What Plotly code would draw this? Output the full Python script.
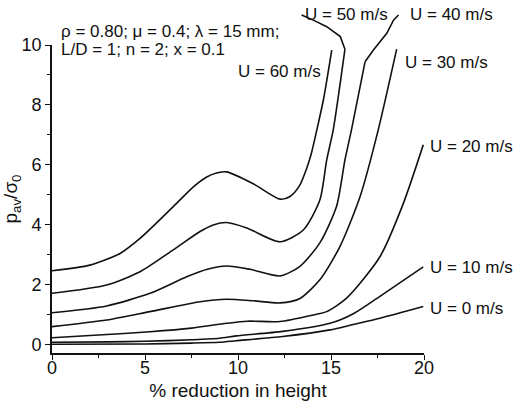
import plotly.graph_objects as go

# ---- data ----
speeds = [0, 10, 20, 30, 40, 50, 60]

x_u0 = [0, 5, 7.5, 9.0, 9.9, 12.4, 14.95, 16.2, 17.63, 19.96]
y_u0 = [0.02, 0.03, 0.06, 0.09, 0.14, 0.28, 0.50, 0.68, 0.89, 1.28]

x_u10 = [0, 3, 5, 7.5, 9.0, 9.9, 12.4, 14.95, 16.2, 17.63, 19.96]
y_u10 = [0.09, 0.10, 0.12, 0.17, 0.22, 0.30, 0.45, 0.72, 1.04, 1.62, 2.60]

x_u20 = [0, 2.5, 5.27, 7.5, 9.39, 10.5, 12.26, 14.05, 14.77, 15.84, 17.63, 18.89, 19.96]
y_u20 = [0.24, 0.33, 0.44, 0.56, 0.72, 0.79, 0.78, 1.00, 1.11, 1.56, 2.94, 4.72, 6.67]

x_u30 = [0, 2.94, 5.27, 7.96, 9.39, 10.83, 12.26, 13.33, 14.4, 15.48, 16.56, 17.54, 18.53]
y_u30 = [0.61, 0.83, 1.11, 1.44, 1.52, 1.47, 1.40, 1.55, 2.17, 3.28, 4.94, 7.17, 9.86]

x_u40 = [0, 2.94, 5.27, 7.24, 8.4, 9.39, 10.65, 12.26, 13.33, 14.4, 15.3, 15.75, 16.1, 16.83]
y_u40 = [1.07, 1.30, 1.72, 2.27, 2.53, 2.63, 2.52, 2.30, 2.62, 3.40, 4.62, 6.17, 7.17, 9.44]

x_u50 = [0, 2.94, 4.73, 6.52, 7.96, 8.67, 9.39, 10.47, 12.26, 13.51, 14.4, 14.77, 15.12, 15.75]
y_u50 = [1.72, 2.00, 2.44, 3.17, 3.78, 4.00, 4.08, 3.90, 3.44, 3.83, 4.83, 6.17, 7.17, 9.86]

x_u60 = [0, 2.04, 3.66, 4.73, 6.52, 7.6, 8.32, 8.85, 9.39, 10.8, 12.26, 12.8, 13.3, 13.7, 13.95, 14.25, 14.6, 15.04]
y_u60 = [2.47, 2.66, 3.05, 3.55, 4.61, 5.27, 5.60, 5.73, 5.77, 5.38, 4.86, 4.95, 5.30, 5.90, 6.40, 7.20, 8.20, 9.83]

series_x = [x_u0, x_u10, x_u20, x_u30, x_u40, x_u50, x_u60]
series_y = [y_u0, y_u10, y_u20, y_u30, y_u40, y_u50, y_u60]

labels = ["U = 0 m/s", "U = 10 m/s", "U = 20 m/s", "U = 30 m/s",
          "U = 40 m/s", "U = 50 m/s", "U = 60 m/s"]
label_x = [20.2, 20.2, 20.2, 18.87, 19.14, 13.5, 14.57]
label_y = [1.22, 2.59, 6.61, 9.43, 11.03, 11.03, 9.10]
label_anchor = ["left", "left", "left", "left", "left", "left", "right"]

# leader lines (data units) for U = 40 and U = 50
leader40_x = [16.83, 17.28, 18.0, 18.36, 18.63]
leader40_y = [9.44, 9.83, 10.39, 10.83, 11.0]
leader50_x = [15.75, 15.5, 14.77, 14.05, 13.42]
leader50_y = [9.86, 10.28, 10.61, 10.83, 11.0]

params_line1 = "ρ = 0.80; μ = 0.4; λ = 15 mm;"
params_line2 = "L/D = 1; n = 2; x = 0.1"
params_x = 0.38
params_y = [10.45, 9.86]

XMIN, XMAX = 0, 20
YMIN, YMAX = -0.27, 10

FONT = "Liberation Sans, Arial, sans-serif"


def px_(x):
    return (x - XMIN) / (XMAX - XMIN)


def py_(y):
    return (y - YMIN) / (YMAX - YMIN)


fig = go.Figure()
for xs, ys, name in zip(series_x, series_y, labels):
    fig.add_trace(go.Scatter(x=xs, y=ys, mode="lines", name=name,
                             line=dict(color="#111111", width=1.6, shape="spline", smoothing=0.7),
                             showlegend=False, cliponaxis=False))

for t, lx, ly, an in zip(labels, label_x, label_y, label_anchor):
    fig.add_annotation(x=px_(lx), y=py_(ly), xref="paper", yref="paper", text=t, showarrow=False,
                       xanchor=an, yanchor="middle",
                       font=dict(family=FONT, size=17, color="#111111"))

for lxs, lys in [(leader40_x, leader40_y), (leader50_x, leader50_y)]:
    path = "M " + " L ".join(f"{px_(x):.5f},{py_(y):.5f}" for x, y in zip(lxs, lys))
    fig.add_shape(type="path", path=path, xref="paper", yref="paper",
                  line=dict(color="#111111", width=1.6))

for txt, yy in zip([params_line1, params_line2], params_y):
    fig.add_annotation(x=px_(params_x), y=py_(yy), xref="paper", yref="paper",
                       text=txt, showarrow=False, xanchor="left", yanchor="middle",
                       font=dict(family=FONT, size=17, color="#111111"))

fig.update_layout(
    width=515, height=408,
    margin=dict(l=52, r=91, t=45, b=55),
    paper_bgcolor="white", plot_bgcolor="white",
    font=dict(family=FONT, size=18, color="#111111"),
)
fig.update_xaxes(range=[XMIN, XMAX], showgrid=False, zeroline=False, automargin=False,
                 showline=True, linecolor="#111111", linewidth=1.6,
                 ticks="outside", ticklen=5, tickwidth=1.4, tickcolor="#111111",
                 tick0=0, dtick=5, ticklabelstandoff=-7,
                 minor=dict(ticks="outside", ticklen=3, tickwidth=1.2, dtick=2.5, tickcolor="#111111"),
                 title=dict(text="% reduction in height", font=dict(size=19), standoff=6),
                 tickfont=dict(size=18))
fig.update_yaxes(range=[YMIN, YMAX], showgrid=False, zeroline=False, automargin=False,
                 showline=True, linecolor="#111111", linewidth=1.6,
                 ticks="outside", ticklen=5, tickwidth=1.4, tickcolor="#111111",
                 tickvals=[0, 2, 4, 6, 8, 10],
                 minor=dict(ticks="outside", ticklen=3, tickwidth=1.2, tickvals=[1, 3, 5, 7, 9], tickcolor="#111111"),
                 title=dict(text="p<sub>av</sub>/σ<sub>0</sub>", font=dict(size=19), standoff=4),
                 tickfont=dict(size=18))

fig.write_html("out.html")
